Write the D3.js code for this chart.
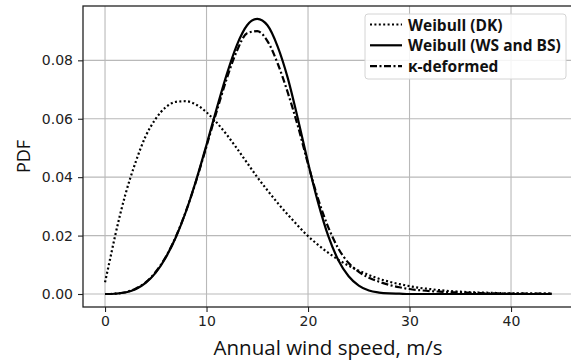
<!DOCTYPE html>
<html>
<head>
<meta charset="utf-8">
<script src="https://cdn.jsdelivr.net/npm/d3@7"></script>
<style>
  html, body { margin: 0; padding: 0; background: #fff; }
  svg { display: block; }
</style>
</head>
<body>
<div id="chart"></div>
<script>
// wind speed samples (m/s)
const speeds = [0, 0.5, 1, 2, 3, 4, 5, 6, 7, 8, 9, 10, 11, 12, 13, 14, 15, 16, 17, 18, 19, 20,
  21, 22, 23, 24, 25, 26, 27, 28, 29, 30, 31, 32, 33, 34, 35, 36, 37, 38, 39, 40, 41, 42, 43, 44];

// PDF values
const weibullDK = [0.004, 0.012, 0.020, 0.034, 0.045, 0.054, 0.060, 0.064, 0.0658, 0.066, 0.0648,
  0.0622, 0.0587, 0.0545, 0.0498, 0.0449, 0.0400, 0.0355, 0.0312, 0.0272, 0.0234, 0.0198,
  0.0168, 0.0141, 0.0117, 0.0097, 0.0080, 0.0065, 0.0052, 0.0042, 0.0034, 0.0027, 0.0021,
  0.0017, 0.0013, 0.0010, 0.0008, 0.0006, 0.0005, 0.0004, 0.0003, 0.0002, 0.0002, 0.0001,
  0.0001, 0.0001];

const weibullWS = [0, 0, 0.0001, 0.0005, 0.0016, 0.0038, 0.0073, 0.0126, 0.0196, 0.0285, 0.0392,
  0.0511, 0.0635, 0.0753, 0.0853, 0.0920, 0.0942, 0.0920, 0.0848, 0.0740, 0.0600, 0.0450,
  0.0312, 0.0198, 0.0115, 0.0061, 0.0029, 0.0012, 0.0005, 0.0002, 0.0001, 0, 0, 0, 0, 0,
  0, 0, 0, 0, 0, 0, 0, 0, 0, 0];

const kappaDeformed = [0, 0, 0.0001, 0.0006, 0.0018, 0.0040, 0.0076, 0.0128, 0.0198, 0.0286, 0.0390,
  0.0506, 0.0625, 0.0738, 0.0833, 0.0893, 0.0900, 0.0866, 0.0790, 0.0690, 0.0575, 0.0445,
  0.0325, 0.0228, 0.0155, 0.0106, 0.0076, 0.0056, 0.0042, 0.0031, 0.0023, 0.0017, 0.0013,
  0.0010, 0.0008, 0.0006, 0.0005, 0.0004, 0.0003, 0.0002, 0.0002, 0.0001, 0.0001, 0.0001,
  0.0001, 0.0001];

const seriesNames = ["Weibull (DK)", "Weibull (WS and BS)", "κ-deformed"];
const xTicks = [0, 10, 20, 30, 40];
const yTicks = [0, 0.02, 0.04, 0.06, 0.08];

const W = 571, H = 363;
// axes box (right side runs past the picture edge)
const box = { left: 83, top: 6, right: 577, bottom: 307 };

const svg = d3.select("#chart").append("svg")
  .attr("width", W)
  .attr("height", H);

svg.append("rect").attr("width", W).attr("height", H).attr("fill", "#fff");

const x = d3.scaleLinear().domain([-2.17, 46.5]).range([box.left, box.right]);
const y = d3.scaleLinear().domain([-0.00445, 0.0986]).range([box.bottom, box.top]);

// grid
const grid = svg.append("g").attr("stroke", "#b9b9b9").attr("stroke-width", 1.1);
xTicks.forEach(t => {
  grid.append("line")
    .attr("x1", x(t)).attr("x2", x(t))
    .attr("y1", box.top).attr("y2", box.bottom);
});
yTicks.forEach(t => {
  grid.append("line")
    .attr("x1", box.left).attr("x2", box.right)
    .attr("y1", y(t)).attr("y2", y(t));
});

// axes
const xAxis = svg.append("g")
  .attr("transform", `translate(0,${box.bottom})`)
  .call(d3.axisBottom(x).tickValues(xTicks).tickFormat(d3.format("d")).tickSize(5).tickPadding(4));
const yAxis = svg.append("g")
  .attr("transform", `translate(${box.left},0)`)
  .call(d3.axisLeft(y).tickValues(yTicks).tickFormat(d3.format(".2f")).tickSize(5).tickPadding(5));

[xAxis, yAxis].forEach(g => {
  g.select(".domain").remove();
  g.selectAll(".tick line").attr("stroke", "#222").attr("stroke-width", 1.1);
  g.selectAll(".tick text")
    .attr("fill", "#222")
    .style("font-family", "DejaVu Sans, sans-serif")
    .style("font-size", "14px");
});

// frame
svg.append("rect")
  .attr("x", box.left).attr("y", box.top)
  .attr("width", box.right - box.left)
  .attr("height", box.bottom - box.top)
  .attr("fill", "none")
  .attr("stroke", "#222")
  .attr("stroke-width", 1.3);

// curves
const series = [
  { name: seriesNames[0], values: weibullDK, dash: "2,2.4", width: 2.2 },
  { name: seriesNames[1], values: weibullWS, dash: null, width: 2.2 },
  { name: seriesNames[2], values: kappaDeformed, dash: "7,2.5,2,2.5", width: 2.2 }
];

const line = d3.line()
  .x(d => x(d[0]))
  .y(d => y(d[1]))
  .curve(d3.curveMonotoneX);

series.forEach(s => {
  svg.append("path")
    .datum(speeds.map((v, i) => [v, s.values[i]]))
    .attr("fill", "none")
    .attr("stroke", "#000")
    .attr("stroke-width", s.width)
    .attr("stroke-dasharray", s.dash)
    .attr("d", line);
});

// axis labels
svg.append("text")
  .attr("x", 328)
  .attr("y", 355)
  .attr("text-anchor", "middle")
  .style("font-family", "Open Sans, sans-serif")
  .style("font-size", "20.5px")
  .attr("fill", "#111")
  .text("Annual wind speed, m/s");

svg.append("text")
  .attr("transform", `translate(29.5,${(box.top + box.bottom) / 2}) rotate(-90)`)
  .attr("text-anchor", "middle")
  .style("font-family", "Open Sans, sans-serif")
  .style("font-size", "18px")
  .attr("fill", "#111")
  .text("PDF");

// legend
const legend = svg.append("g");
legend.append("rect")
  .attr("x", 365).attr("y", 14)
  .attr("width", 201).attr("height", 65)
  .attr("rx", 3)
  .attr("fill", "#fff")
  .attr("fill-opacity", 0.85)
  .attr("stroke", "#d4d4d4");

series.forEach((s, i) => {
  const cy = 24.5 + i * 20.8;
  legend.append("line")
    .attr("x1", 370).attr("x2", 402)
    .attr("y1", cy).attr("y2", cy)
    .attr("stroke", "#000")
    .attr("stroke-width", s.width)
    .attr("stroke-dasharray", s.dash);
  legend.append("text")
    .attr("x", 408)
    .attr("y", cy + 6)
    .style("font-family", "Open Sans, sans-serif")
    .style("font-weight", "bold")
    .style("font-size", "15.5px")
    .attr("fill", "#111")
    .text(s.name);
});
</script>
</body>
</html>
